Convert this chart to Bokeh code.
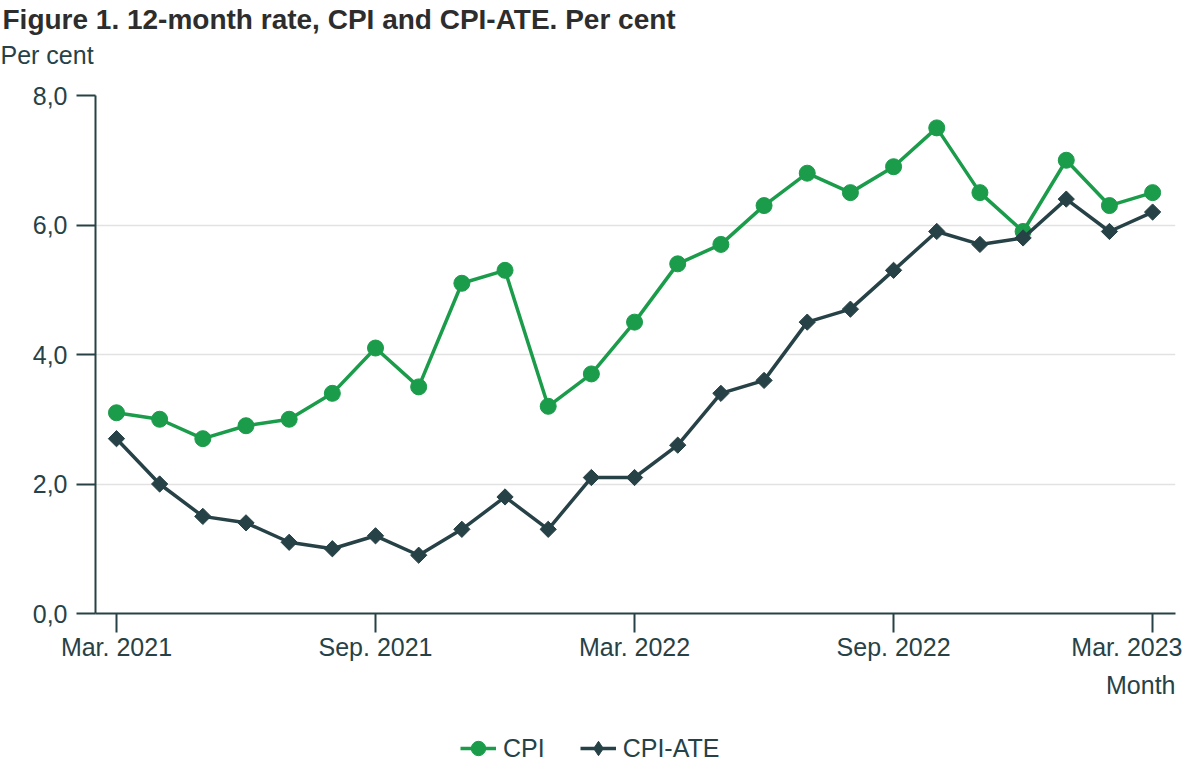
from bokeh.plotting import figure
from bokeh.layouts import column
from bokeh.models import (Range1d, FixedTicker, CustomJSTickFormatter, Title,
                          Legend, LegendItem)
from bokeh.embed import file_html
from bokeh.resources import INLINE
import math

# ---- data ----
months = ["Mar. 2021", "Apr. 2021", "May 2021", "Jun. 2021", "Jul. 2021", "Aug. 2021",
          "Sep. 2021", "Oct. 2021", "Nov. 2021", "Dec. 2021", "Jan. 2022", "Feb. 2022",
          "Mar. 2022", "Apr. 2022", "May 2022", "Jun. 2022", "Jul. 2022", "Aug. 2022",
          "Sep. 2022", "Oct. 2022", "Nov. 2022", "Dec. 2022", "Jan. 2023", "Feb. 2023",
          "Mar. 2023"]
cpi = [3.1, 3.0, 2.7, 2.9, 3.0, 3.4, 4.1, 3.5, 5.1, 5.3, 3.2, 3.7,
       4.5, 5.4, 5.7, 6.3, 6.8, 6.5, 6.9, 7.5, 6.5, 5.9, 7.0, 6.3, 6.5]
cpi_ate = [2.7, 2.0, 1.5, 1.4, 1.1, 1.0, 1.2, 0.9, 1.3, 1.8, 1.3, 2.1,
           2.1, 2.6, 3.4, 3.6, 4.5, 4.7, 5.3, 5.9, 5.7, 5.8, 6.4, 5.9, 6.2]
tick_months = ["Mar. 2021", "Sep. 2021", "Mar. 2022", "Sep. 2022", "Mar. 2023"]
y_ticks = [0, 2, 4, 6, 8]

title_text = "Figure 1. 12-month rate, CPI and CPI-ATE. Per cent"
y_label = "Per cent"
x_label = "Month"
series_names = ["CPI", "CPI-ATE"]

GREEN = "#1b9c4b"
DARK = "#274247"
FONT = "Liberation Sans"
W = 1182

x = list(range(len(months)))
tick_pos = [months.index(m) for m in tick_months]

# ---------- header strip (title + unit) ----------
TOP_H = 75
p_top = figure(width=W, height=TOP_H, output_backend="svg", toolbar_location=None,
               x_range=Range1d(0, 1), y_range=Range1d(0, 1),
               x_axis_type=None, y_axis_type=None, min_border=0,
               outline_line_color=None, border_fill_color="white",
               background_fill_color="white")
p_top.grid.visible = False
p_top.add_layout(Title(text=y_label, align="left", offset=-95, standoff=6,
                       text_font=FONT, text_font_size="25px", text_font_style="normal",
                       text_color=DARK), "above")
p_top.add_layout(Title(text=title_text, align="left", offset=-93, standoff=2,
                       text_font=FONT, text_font_size="28px", text_font_style="bold",
                       text_color="#2d2d2d"), "above")

# ---------- main chart ----------
MAIN_H = 645
p = figure(width=W, height=MAIN_H, output_backend="svg", toolbar_location=None,
           x_range=Range1d(-0.486, 24.53), y_range=Range1d(0, 8),
           min_border_left=95, min_border_right=7, min_border_top=20,
           min_border_bottom=107, outline_line_color=None,
           background_fill_color="white", border_fill_color="white")

p.xgrid.visible = False
p.ygrid.ticker = FixedTicker(ticks=y_ticks)
p.ygrid.grid_line_color = "#e2e2e2"
p.ygrid.grid_line_width = 1.5

for ax in (p.xaxis[0], p.yaxis[0]):
    ax.axis_line_color = DARK
    ax.axis_line_width = 2
    ax.major_tick_line_color = DARK
    ax.major_tick_line_width = 2
    ax.major_tick_out = 19
    ax.major_tick_in = 0
    ax.minor_tick_line_color = None
    ax.major_label_text_font = FONT
    ax.major_label_text_font_size = "25px"
    ax.major_label_text_color = DARK

p.xaxis.ticker = FixedTicker(ticks=tick_pos)
p.xaxis.formatter = CustomJSTickFormatter(args=dict(labels=months),
                                          code="return labels[Math.round(tick)] || '';")
p.xaxis.major_label_standoff = 0
p.yaxis.ticker = FixedTicker(ticks=y_ticks)
p.yaxis.formatter = CustomJSTickFormatter(code="return tick.toFixed(1).replace('.', ',');")
p.yaxis.major_label_standoff = 9

p.line(x, cpi, line_color=GREEN, line_width=3.5)
p.scatter(x, cpi, marker="circle", size=16, fill_color=GREEN, line_color=GREEN)
p.line(x, cpi_ate, line_color=DARK, line_width=3.5)
p.scatter(x, cpi_ate, marker="square", size=11.5, angle=math.pi / 4,
          fill_color=DARK, line_color=DARK)

p.add_layout(Title(text=x_label, align="right", offset=0, standoff=10,
                   text_font=FONT, text_font_size="25px", text_font_style="normal",
                   text_color=DARK), "below")

# ---------- legend strip ----------
LEG_H = 52
p_leg = figure(width=W, height=LEG_H, output_backend="svg", toolbar_location=None,
               x_range=Range1d(100, 101), y_range=Range1d(100, 101),
               x_axis_type=None, y_axis_type=None, min_border=0,
               outline_line_color=None, border_fill_color="white",
               background_fill_color="white")
p_leg.grid.visible = False
gl1 = p_leg.line(x, cpi, line_color=GREEN, line_width=3.5)
gs1 = p_leg.scatter(x, cpi, marker="circle", fill_color=GREEN, line_color=GREEN)
gl2 = p_leg.line(x, cpi_ate, line_color=DARK, line_width=3.5)
gs2 = p_leg.scatter(x, cpi_ate, marker="diamond", fill_color=DARK, line_color=DARK)
legend = Legend(items=[LegendItem(label=series_names[0], renderers=[gl1, gs1]),
                       LegendItem(label=series_names[1], renderers=[gl2, gs2])],
                orientation="horizontal", location=(365, 4),
                label_text_font=FONT, label_text_font_size="25px",
                label_text_color=DARK, glyph_width=36, glyph_height=40,
                label_standoff=7, spacing=35, padding=0, margin=0,
                border_line_color=None, background_fill_alpha=0)
p_leg.add_layout(legend)

layout = column(p_top, p, p_leg, spacing=0)
open("out.html", "w").write(file_html(layout, INLINE))
